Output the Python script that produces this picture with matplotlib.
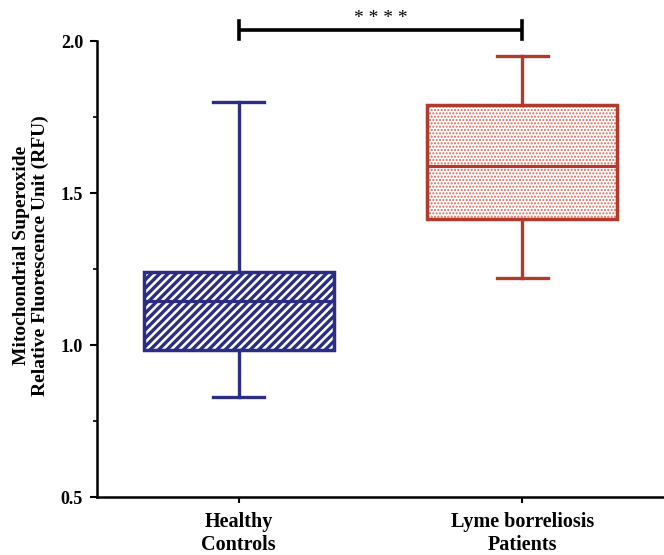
import matplotlib
matplotlib.use("Agg")
import matplotlib.pyplot as plt
from matplotlib.patches import PathPatch

plt.rcParams['font.family'] = ['Liberation Serif', 'DejaVu Serif']
plt.rcParams['font.weight'] = 'bold'

categories = ["Healthy\nControls", "Lyme borreliosis\nPatients"]
whislo = [0.83, 1.22]
q1 = [0.982, 1.414]
med = [1.145, 1.588]
q3 = [1.241, 1.788]
whishi = [1.80, 1.95]
significance = "* * * *"
yticks = [0.5, 1.0, 1.5, 2.0]
ylabel = "Mitochondrial Superoxide\nRelative Fluorescence Unit (RFU)"

edge_colors = ["#2B2E83", "#B23A2C"]
hatch_colors = ["#2B2E83", "#DA6656"]
hatches = ["////", "....."]

fig = plt.figure(figsize=(6.64, 5.55), dpi=100)
ax = fig.add_axes([97/664, 1-497/555, 1-97/664, 456/555])

stats = []
for i in range(len(categories)):
    stats.append(dict(med=med[i], q1=q1[i], q3=q3[i], whislo=whislo[i],
                      whishi=whishi[i], fliers=[], label=categories[i]))

positions = list(range(1, len(categories) + 1))
bp = ax.bxp(stats, positions=positions, widths=0.67, patch_artist=True,
            showfliers=False)

for i, box in enumerate(bp['boxes']):
    c = edge_colors[i]
    hp = PathPatch(box.get_path(), transform=box.get_transform(),
                   facecolor='white', edgecolor=hatch_colors[i], lw=0,
                   hatch=hatches[i], zorder=1.5)
    try:
        hp.set_hatch_linewidth(2.4 if i == 0 else 1.0)
    except AttributeError:
        pass
    ax.add_patch(hp)
    box.set_facecolor('none')
    box.set_edgecolor(c)
    box.set_linewidth(2.5)
    box.set_zorder(3)
for i in range(len(categories)):
    c = edge_colors[i]
    for w in bp['whiskers'][2*i:2*i+2]:
        w.set_color(c); w.set_linewidth(2.4)
    for cp in bp['caps'][2*i:2*i+2]:
        cp.set_color(c); cp.set_linewidth(2.4)
        xd = cp.get_xdata()
        mid = (xd[0] + xd[1]) / 2
        cp.set_xdata([mid - 0.09, mid + 0.09])
    m = bp['medians'][i]
    m.set_color(c); m.set_linewidth(2.3); m.set_zorder(4)

ax.set_xlim(0.5, 2.5)
ax.set_ylim(0.5, 2.0)
ax.set_yticks(yticks)
ax.set_yticklabels([f"{v:.1f}" for v in yticks])
ax.set_yticks([0.75, 1.25, 1.75], minor=True)
ax.set_xticks(positions)
ax.set_xticklabels(categories, fontsize=14.5, fontweight='bold', linespacing=1.15)

for s in ['top', 'right']:
    ax.spines[s].set_visible(False)
for s in ['left', 'bottom']:
    ax.spines[s].set_linewidth(1.8)
    ax.spines[s].set_color('black')

ax.tick_params(axis='y', which='major', length=5, width=1.5, labelsize=13, pad=5)
ax.tick_params(axis='y', which='minor', length=3, width=1.2)
ax.tick_params(axis='x', which='major', length=4, width=1.5, pad=7)

ax.set_ylabel(ylabel, fontsize=14, fontweight='bold', linespacing=1.1)
ax.yaxis.set_label_coords(-0.085, 0.53)

yb = 2.035
ax.plot([positions[0], positions[1]], [yb, yb], color='black', lw=2.6,
        clip_on=False, solid_capstyle='butt')
for p in positions:
    ax.plot([p, p], [yb - 0.03, yb + 0.03], color='black', lw=2.6, clip_on=False)
ax.text(sum(positions)/2, yb + 0.012, significance, ha='center', va='bottom',
        fontsize=14, fontweight='normal', clip_on=False)

fig.savefig("out.png", dpi=100)
